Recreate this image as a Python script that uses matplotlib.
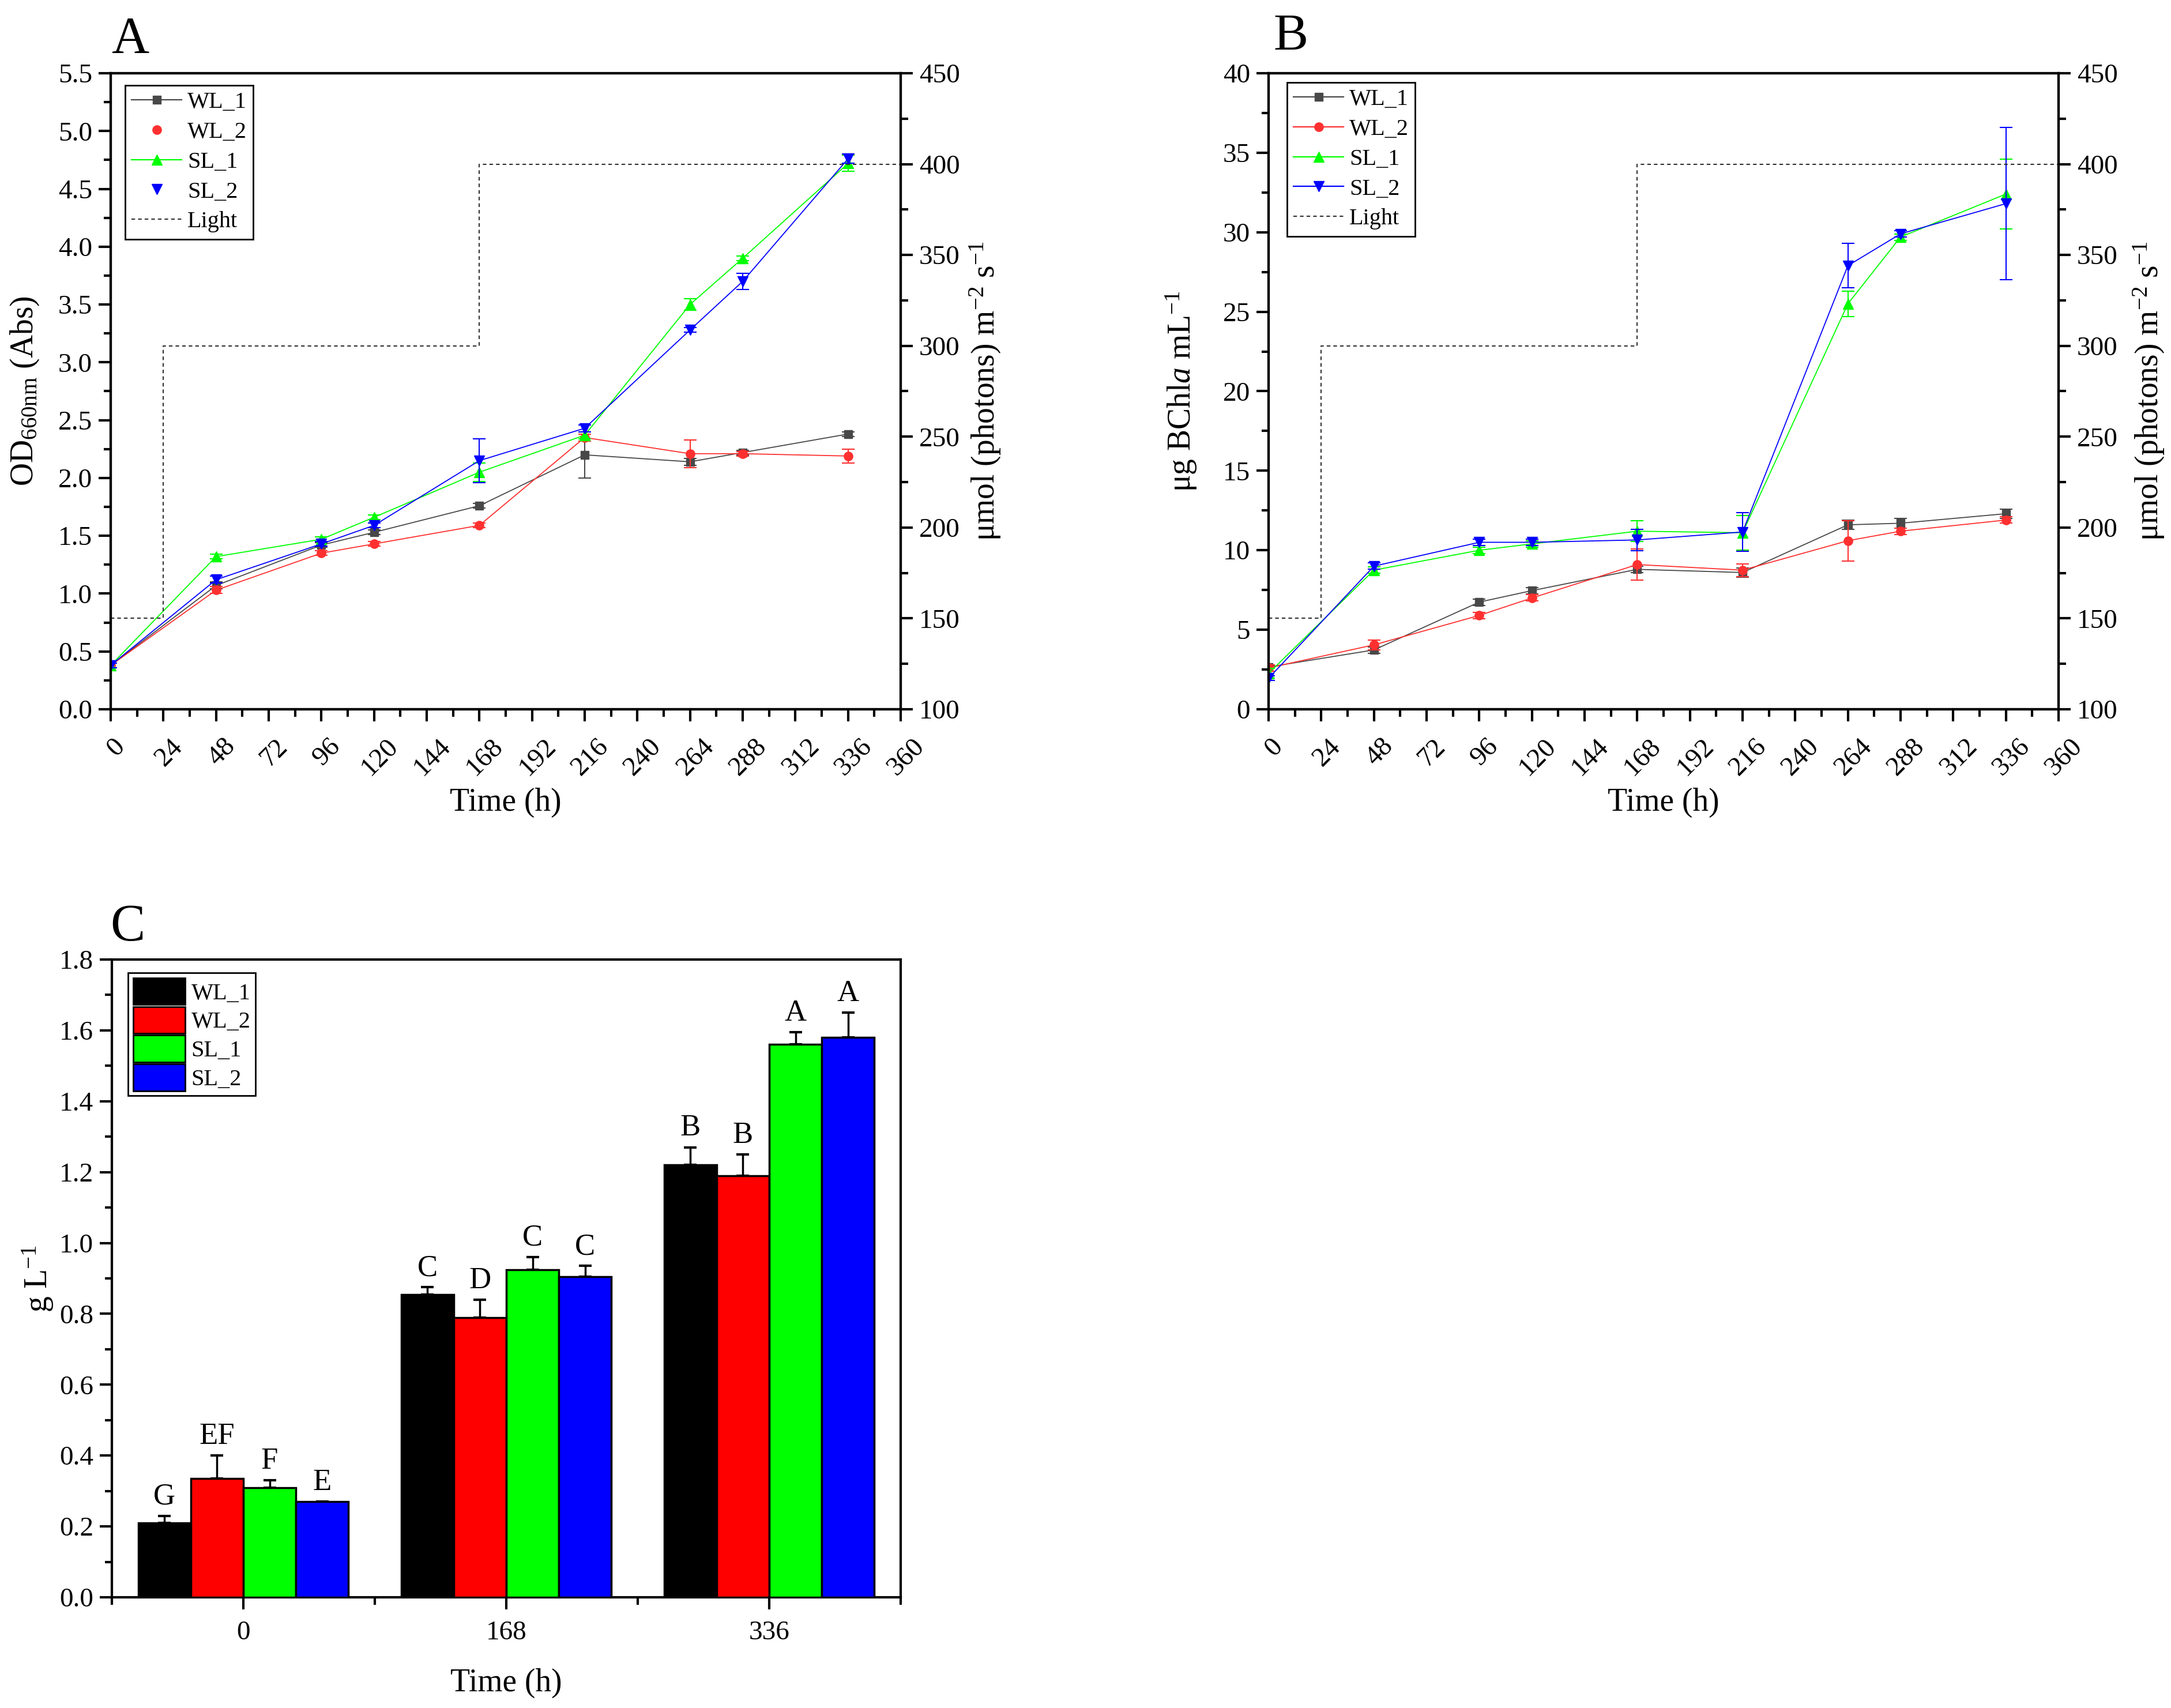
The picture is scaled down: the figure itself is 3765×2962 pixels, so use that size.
import matplotlib
matplotlib.use('Agg')
import matplotlib.pyplot as plt
from matplotlib.lines import Line2D
from matplotlib.patches import Patch
from matplotlib.ticker import MultipleLocator
from matplotlib.transforms import ScaledTranslation

plt.rcParams['font.family'] = ['Liberation Serif', 'DejaVu Serif']
plt.rcParams['mathtext.fontset'] = 'custom'
plt.rcParams['mathtext.rm'] = 'Liberation Serif'
plt.rcParams['mathtext.it'] = 'Liberation Serif:italic'
plt.rcParams['mathtext.default'] = 'regular'

W, H = 3765, 2962

hours = [0, 48, 96, 120, 168, 216, 264, 288, 336]
light_x = [0, 24, 24, 168, 168, 360]
light_y = [150, 150, 300, 300, 400, 400]
names = ['WL_1', 'WL_2', 'SL_1', 'SL_2']
colors = ['#484848', '#ff3030', '#00ff00', '#0000ff']
bar_colors = ['#000000', '#ff0000', '#00ff00', '#0000ff']
markers = ['s', 'o', '^', 'v']
marker_sizes = [9.5, 11, 13, 13]

# panel A, OD660
od_wl1 = [0.38, 1.07, 1.42, 1.53, 1.76, 2.20, 2.14, 2.22, 2.38]
od_wl2 = [0.38, 1.03, 1.35, 1.43, 1.59, 2.35, 2.21, 2.21, 2.19]
od_sl1 = [0.38, 1.32, 1.47, 1.66, 2.05, 2.37, 3.50, 3.90, 4.72]
od_sl2 = [0.38, 1.12, 1.43, 1.59, 2.15, 2.43, 3.28, 3.70, 4.76]
od_wl1_err = [0.02, 0.03, 0.02, 0.02, 0.02, 0.20, 0.03, 0.02, 0.02]
od_wl2_err = [0.02, 0.03, 0.02, 0.02, 0.02, 0.03, 0.12, 0.02, 0.06]
od_sl1_err = [0.02, 0.02, 0.02, 0.02, 0.08, 0.03, 0.05, 0.02, 0.07]
od_sl2_err = [0.02, 0.03, 0.02, 0.02, 0.19, 0.03, 0.02, 0.07, 0.04]

# panel B, BChl a
bchl_wl1 = [2.66, 3.73, 6.74, 7.46, 8.80, 8.60, 11.6, 11.7, 12.3]
bchl_wl2 = [2.60, 4.05, 5.90, 7.00, 9.10, 8.75, 10.6, 11.2, 11.9]
bchl_sl1 = [2.26, 8.75, 10.0, 10.4, 11.2, 11.1, 25.5, 29.7, 32.4]
bchl_sl2 = [1.95, 9.00, 10.5, 10.5, 10.65, 11.15, 27.9, 29.9, 31.8]
bchl_wl1_err = [0.1, 0.2, 0.2, 0.2, 0.2, 0.3, 0.3, 0.3, 0.3]
bchl_wl2_err = [0.2, 0.3, 0.2, 0.2, 0.97, 0.4, 1.27, 0.2, 0.2]
bchl_sl1_err = [0.3, 0.2, 0.2, 0.2, 0.65, 1.1, 0.8, 0.2, 2.2]
bchl_sl2_err = [0.15, 0.2, 0.2, 0.2, 0.68, 1.2, 1.4, 0.2, 4.8]

# panel C, biomass
times_c = ['0', '168', '336']
gl_wl1 = [0.21, 0.855, 1.22]
gl_wl2 = [0.335, 0.79, 1.19]
gl_sl1 = [0.31, 0.925, 1.56]
gl_sl2 = [0.27, 0.905, 1.58]
gl_wl1_err = [0.02, 0.02, 0.05]
gl_wl2_err = [0.065, 0.05, 0.06]
gl_sl1_err = [0.02, 0.035, 0.035]
gl_sl2_err = [0.0, 0.03, 0.07]
letters_wl1 = ['G', 'C', 'B']
letters_wl2 = ['EF', 'D', 'B']
letters_sl1 = ['F', 'C', 'A']
letters_sl2 = ['E', 'C', 'A']

fig = plt.figure(figsize=(W / 100, H / 100), dpi=100, facecolor='white')


def make_axes(left, right, top, bottom):
    return fig.add_axes([left / W, 1 - bottom / H, (right - left) / W, (bottom - top) / H])


def style(ax):
    for s in ax.spines.values():
        s.set_linewidth(3)
    ax.tick_params(which='major', direction='out', length=15, width=3, labelsize=34, pad=8)
    ax.tick_params(which='minor', direction='out', length=9, width=3)


def legend_at(ax, handles, labels, left_px, top_px, ax_box, **kw):
    x = (left_px - ax_box[0]) / (ax_box[1] - ax_box[0])
    y = 1 - (top_px - ax_box[2]) / (ax_box[3] - ax_box[2])
    leg = ax.legend(handles, labels, loc='upper left', bbox_to_anchor=(x, y), borderaxespad=0,
                    fontsize=29, fancybox=False, framealpha=1, edgecolor='black', **kw)
    leg.get_frame().set_linewidth(2)
    return leg


def line_panel(box, series, errors, ylim, ymajor, yminor, ylabel, ylabel_x, rlabel_x, legend_pos, no_line):
    ax = make_axes(*box)
    style(ax)
    handles = []
    for i in range(4):
        ax.errorbar(hours, series[i], yerr=errors[i], color=colors[i], marker=markers[i],
                    ms=marker_sizes[i], lw=1.3, elinewidth=1.5, capsize=8, capthick=1.5, zorder=3 + i)
        handles.append(Line2D([], [], color=colors[i], marker=markers[i], ms=marker_sizes[i],
                              lw=0 if i in no_line else 1.6))
    ax.set_xlim(0, 360)
    ax.set_ylim(*ylim)
    ax.xaxis.set_major_locator(MultipleLocator(24))
    ax.xaxis.set_minor_locator(MultipleLocator(12))
    ax.yaxis.set_major_locator(MultipleLocator(ymajor))
    ax.yaxis.set_minor_locator(MultipleLocator(yminor))
    ax.tick_params(axis='x', which='major', labelrotation=45, pad=16)
    # rotated labels sit a little right of their ticks in the original
    shift = ScaledTranslation(10 / 100, 0, fig.dpi_scale_trans)
    for lab in ax.get_xticklabels():
        lab.set_transform(lab.get_transform() + shift)
    ax.set_xlabel('Time (h)', fontsize=40)
    ax.xaxis.set_label_coords(0.5, -0.123)
    ax.set_ylabel(ylabel, fontsize=40)
    ax.yaxis.set_label_coords(ylabel_x, 0.5)

    ax2 = ax.twinx()
    style(ax2)
    ax2.plot(light_x, light_y, color='#303030', lw=1.5, ls=(0, (3, 2.5)))
    ax2.set_ylim(100, 450)
    ax2.yaxis.set_major_locator(MultipleLocator(50))
    ax2.yaxis.set_minor_locator(MultipleLocator(25))
    ax2.set_ylabel('\u03bcmol (photons) m$^{-2}$ s$^{-1}$', fontsize=40)
    ax2.yaxis.set_label_coords(rlabel_x, 0.5)
    handles.append(Line2D([], [], color='#303030', lw=1.5, ls=(0, (3, 2.5))))
    legend_at(ax2, handles, names + ['Light'], legend_pos[0], legend_pos[1], box,
              labelspacing=0.36, handlelength=2.15, handletextpad=0.25, borderpad=0.28)
    return ax


box_a = (192, 1562, 127, 1230)
box_b = (2200, 3570, 127, 1230)
box_c = (194, 1562, 1664, 2770)

line_panel(box_a, [od_wl1, od_wl2, od_sl1, od_sl2], [od_wl1_err, od_wl2_err, od_sl1_err, od_sl2_err],
           (0, 5.5), 0.5, 0.25, 'OD$_{660nm}$ (Abs)', -0.088, 1.085, (217, 148), (1, 3))
line_panel(box_b, [bchl_wl1, bchl_wl2, bchl_sl1, bchl_sl2],
           [bchl_wl1_err, bchl_wl2_err, bchl_sl1_err, bchl_sl2_err],
           (0, 40), 5, 2.5, '\u03bcg BChl$\\mathit{a}$ mL$^{-1}$', -0.088, 1.0925, (2232, 143), ())

# panel C
ax = make_axes(*box_c)
style(ax)
values = [gl_wl1, gl_wl2, gl_sl1, gl_sl2]
errs = [gl_wl1_err, gl_wl2_err, gl_sl1_err, gl_sl2_err]
letters = [letters_wl1, letters_wl2, letters_sl1, letters_sl2]
bar_w = 0.2
for i in range(4):
    xs = [g + (i - 1.5) * bar_w for g in range(1, 4)]
    ax.bar(xs, values[i], bar_w, color=bar_colors[i], edgecolor='black', linewidth=2.5, zorder=3)
    ax.errorbar(xs, values[i], yerr=[[0] * 3, errs[i]], fmt='none', ecolor='black', elinewidth=2.5,
                capsize=8, capthick=3, zorder=2)
    for x, v, e, t in zip(xs, values[i], errs[i], letters[i]):
        ax.text(x, v + e + 0.033, t, ha='center', va='baseline', fontsize=38)
ax.set_xlim(0.5, 3.5)
ax.set_ylim(0, 1.8)
ax.set_xticks([1, 2, 3])
ax.set_xticklabels(times_c)
ax.xaxis.set_minor_locator(MultipleLocator(0.5))
ax.yaxis.set_major_locator(MultipleLocator(0.2))
ax.yaxis.set_minor_locator(MultipleLocator(0.1))
ax.tick_params(axis='x', which='major', pad=14)
ax.set_xlabel('Time (h)', fontsize=40)
ax.xaxis.set_label_coords(0.5, -0.111)
ax.set_ylabel('g L$^{-1}$', fontsize=40)
ax.yaxis.set_label_coords(-0.072, 0.5)
bar_handles = [Patch(facecolor=c, edgecolor='black', linewidth=2) for c in bar_colors]
legend_at(ax, bar_handles, names, 222, 1687, box_c, labelspacing=0.08, handlelength=2.25,
          handleheight=1.4, handletextpad=0.25, borderpad=0.22)

# panel letters
fig.text(193 / W, 1 - 92 / H, 'A', fontsize=65, va='baseline')
fig.text(2208 / W, 1 - 87 / H, 'B', fontsize=65, va='baseline')
fig.text(191 / W, 1 - 1631 / H, 'C', fontsize=65, va='baseline')

fig.savefig('out.png', dpi=100)
